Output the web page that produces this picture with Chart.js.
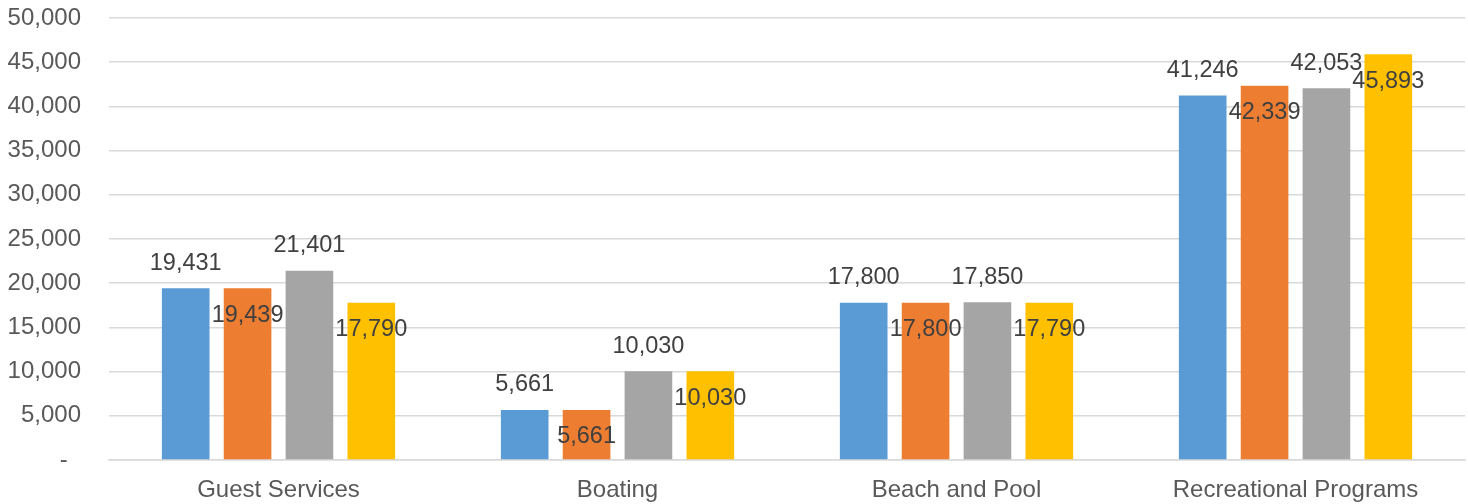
<!DOCTYPE html>
<html>
<head>
<meta charset="utf-8">
<script src="https://cdn.jsdelivr.net/npm/chart.js@4"></script>
<style>
  html, body { margin: 0; padding: 0; background: #fff; }
  #wrap { width: 1468px; height: 504px; }
</style>
</head>
<body>
<div id="wrap"><canvas id="chart"></canvas></div>
<script>
// categories and series values
const categories = ["Guest Services", "Boating", "Beach and Pool", "Recreational Programs"];
const series1 = [19431, 5661, 17800, 41246];
const series2 = [19439, 5661, 17800, 42339];
const series3 = [21401, 10030, 17850, 42053];
const series4 = [17790, 10030, 17790, 45893];
const seriesNames = ["Series 1", "Series 2", "Series 3", "Series 4"];
const colors = ["#5B9BD5", "#ED7D31", "#A5A5A5", "#FFC000"];

const FONT = "'Liberation Sans', Arial, sans-serif";

// value labels: 1st and 3rd series above the bar, 2nd and 4th just inside the top
const valueLabels = {
    id: "valueLabels",
    afterDatasetsDraw(chart) {
        const ctx = chart.ctx;
        ctx.save();
        ctx.font = "23.5px " + FONT;
        ctx.fillStyle = "#404040";
        ctx.textAlign = "center";
        ctx.textBaseline = "middle";
        chart.data.datasets.forEach((ds, i) => {
            const meta = chart.getDatasetMeta(i);
            meta.data.forEach((bar, j) => {
                const txt = ds.data[j].toLocaleString("en-US");
                const dy = (i % 2 === 0) ? -25 : 27;
                ctx.fillText(txt, bar.x, bar.y + dy);
            });
        });
        ctx.restore();
    }
};

const datasets = [series1, series2, series3, series4].map((d, i) => ({
    label: seriesNames[i],
    data: d,
    backgroundColor: colors[i],
    borderWidth: 0,
    categoryPercentage: 0.73,
    barPercentage: 0.77
}));

new Chart(document.getElementById("chart"), {
    type: "bar",
    data: { labels: categories, datasets },
    options: {
        responsive: true,
        maintainAspectRatio: false,
        animation: false,
        layout: { padding: { top: 18, right: 3, left: 0, bottom: 0 } },
        plugins: {
            legend: { display: false },
            tooltip: { enabled: false }
        },
        scales: {
            x: {
                grid: { display: false },
                border: { color: "#d9d9d9", width: 1.5 },
                ticks: {
                    color: "#595959",
                    font: { family: FONT, size: 24 },
                    padding: 8,
                    maxRotation: 0
                },
                afterFit(axis) { axis.height = 44; }
            },
            y: {
                min: 0,
                max: 50000,
                grid: { color: "#d9d9d9", lineWidth: 1.5, tickLength: 28, tickColor: "rgba(0,0,0,0)" },
                border: { display: false },
                ticks: {
                    stepSize: 5000,
                    color: "#595959",
                    font: { family: FONT, size: 24 },
                    padding: 0,
                    callback: v => v === 0 ? "-  " : v.toLocaleString("en-US")
                },
                afterFit(axis) { axis.width = 109; }
            }
        }
    },
    plugins: [valueLabels]
});
</script>
</body>
</html>
